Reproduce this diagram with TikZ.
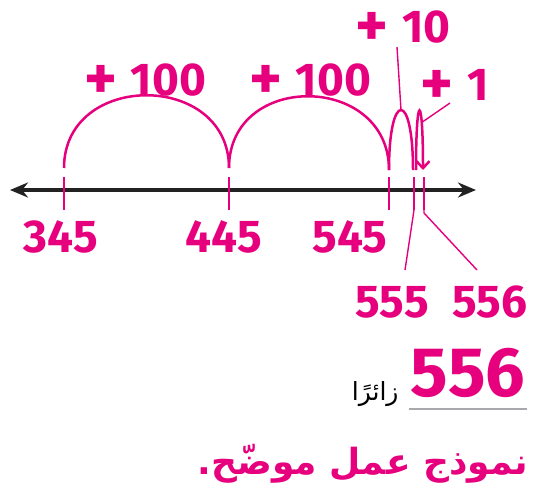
\documentclass[tikz,border=0pt]{standalone}
\usepackage{fontspec}
\setmainfont{Fira Sans}
\newfontfamily\arabicfont[Script=Arabic]{DejaVu Sans}
\TeXXeTstate=1
\usetikzlibrary{arrows.meta,positioning}
\definecolor{nlPink}{HTML}{E6007E}
\definecolor{nlInk}{HTML}{222222}
\definecolor{nlGrey}{HTML}{A7A9AC}
\newcommand{\bigplus}{\raisebox{-0.1em}{\scalebox{1.35}{+}}\hspace{0.3em}}
\tikzset{
  num/.style={text=nlPink, font=\fontsize{46}{46}\selectfont\bfseries, inner sep=0pt, anchor=base},
  big/.style={num, font=\fontsize{70}{70}\selectfont\bfseries},
  jmp/.style={draw=nlPink, line width=2.5pt},
  tck/.style={draw=nlPink, line width=1.8pt},
  ldr/.style={draw=nlPink, line width=1.4pt},
  axis/.style={{Stealth[length=18pt,width=15pt]}-{Stealth[length=18pt,width=15pt]}, line width=3.5pt, draw=nlInk},
}

\begin{document}
\begin{tikzpicture}[x=1pt, y=-1pt]
    \useasboundingbox (0,0) rectangle (537,496);
    % number line
    \coordinate (L) at (10,190);
    \coordinate (R) at (476,190);
    \draw[axis] (L) -- (R);
    \foreach \nm/\x in {a/64, b/229, c/389, d/414, e/424}{
        \coordinate (t\nm) at (\x,177);
        \coordinate (b\nm) at (\x,210);
        \draw[tck] (t\nm) -- (b\nm);
    }
    % jumps
    \coordinate (ja) at (64,168);
    \coordinate (jb) at (229,168);
    \coordinate (jc) at (389,170);
    \coordinate (jd) at (413,170);
    \coordinate (jd2) at (416,170);
    \coordinate (je) at (423,170);
    \draw[jmp] (ja) .. controls +(0,-97) and +(0,-97) .. (jb);
    \draw[jmp] (jb) .. controls +(0,-97) and +(0,-97) .. (jc);
    \draw[jmp] (jc) .. controls +(0,-80) and +(0,-80) .. (jd) coordinate[pos=0.5] (top10);
    \draw[jmp, -{Straight Barb[length=7pt,width=13pt]}] (jd2) .. controls +(0,-80) and +(0,-78) .. (je) coordinate[pos=0.72] (top1);
    % jump labels
    \node[num] (p100a) at (145,95) {\bigplus100};
    \node[num] (p100b) at (310,95) {\bigplus100};
    \node[num] (p10) at (403,42) {\bigplus10};
    \node[num] (p1) at (455,100) {\bigplus1};
    \coordinate (l10) at (397,47);
    \coordinate (l1) at (450,103);
    \draw[ldr] (l10) -- (top10);
    \draw[ldr] (l1) -- (top1);
    % numbers
    \node[num] (n345) at (61,252) {345};
    \node[num] (n445) at (224,252) {445};
    \node[num] (n545) at (350,252) {545};
    \node[num] (n555) at (392,317) {555};
    \node[num] (n556) at (490,317) {556};
    \coordinate (e555) at (405,270);
    \coordinate (e556) at (477,270);
    \draw[ldr] (bd) -- (e555);
    \draw[ldr] (be) -- +(0,3) -- (e556);
    % answer
    \node[big] (ans) at (468,396) {556};
    \draw[nlGrey, line width=2.5pt] ([xshift=-2pt,yshift=-13pt]ans.base west) -- ([xshift=2pt,yshift=-13pt]ans.base east);
    \node[anchor=base east, inner sep=0pt, text=black, font=\arabicfont\fontsize{25}{25}\selectfont] (unit) at ([xshift=-12pt,yshift=-4pt]ans.base west) {\beginR زائرًا\endR};
    \node[anchor=base east, inner sep=0pt, text=nlPink, font=\arabicfont\fontsize{36}{36}\selectfont\bfseries] (note) at (528,474) {\beginR نموذج عمل موضّح.\endR};
\end{tikzpicture}
\end{document}
